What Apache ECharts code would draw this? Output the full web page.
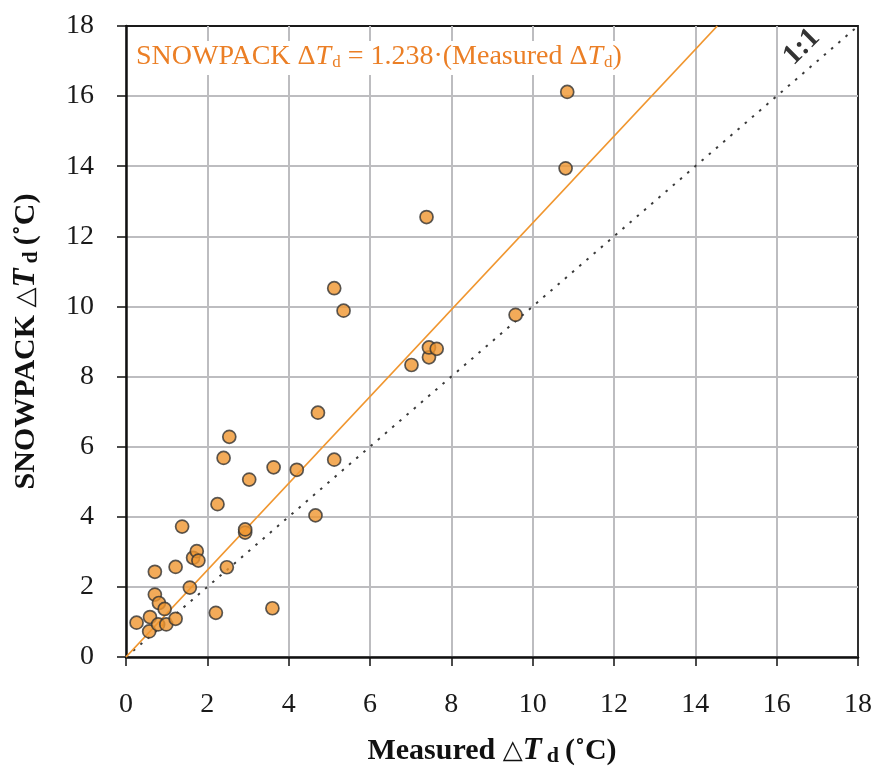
<!DOCTYPE html>
<html>
<head>
<meta charset="utf-8">
<script src="https://cdn.jsdelivr.net/npm/echarts@6/dist/echarts.min.js"></script>
<style>
  html, body { margin: 0; padding: 0; background: #fff; }
  #chart { width: 874px; height: 768px; }
</style>
</head>
<body>
<div id="chart"></div>
<script>
// measured vs simulated delta Td
const measured = [0.26, 0.57, 0.59, 0.71, 0.71, 0.81, 0.79, 0.95, 0.99, 1.22,
  1.22, 1.38, 1.57, 1.65, 1.74, 1.78, 2.21, 2.25, 2.40, 2.48,
  2.54, 2.93, 2.93, 3.03, 3.60, 3.63, 4.20, 4.66, 4.72, 5.12,
  5.12, 5.35, 7.02, 7.45, 7.45, 7.64, 7.39, 9.58, 10.81, 10.85];
const snowpack = [0.98, 0.73, 1.14, 1.78, 2.43, 1.54, 0.93, 1.37, 0.93, 1.09,
  2.57, 3.72, 1.98, 2.83, 3.02, 2.75, 1.26, 4.36, 5.68, 2.56,
  6.28, 3.55, 3.64, 5.06, 1.39, 5.41, 5.34, 4.04, 6.97, 5.63,
  10.52, 9.88, 8.33, 8.55, 8.83, 8.79, 12.55, 9.76, 13.94, 16.12];
const slope = 1.238;
const axisMax = 18;
const tickStep = 2;

const points = measured.map((v, i) => [v, snowpack[i]]);
const fitLine = [[0, 0], [axisMax / slope, axisMax]];
const oneToOne = [[0, 0], [axisMax, axisMax]];

const serif = "'Liberation Serif', 'DejaVu Serif', serif";

const titleRich = {
  tri: { fontFamily: "'DejaVu Sans'", fontSize: 26, color: "#111" },
  T: { fontFamily: serif, fontStyle: "italic", fontWeight: "bold", fontSize: 31, color: "#111" },
  sub: { fontFamily: serif, fontWeight: "bold", fontSize: 22, color: "#111", padding: [10, 6, 0, 5] }
};

var myChart = echarts.init(document.getElementById("chart"));
myChart.setOption({
  animation: false,
  grid: {
    left: 126, right: 16, top: 26, bottom: 111,
    outerBoundsMode: "none",
    containLabel: false,
    show: true, borderColor: "#1a1a1a", borderWidth: 1.8, backgroundColor: "transparent"
  },
  xAxis: {
    type: "value", min: 0, max: axisMax, interval: tickStep,
    axisLine: { lineStyle: { color: "#111", width: 2.5 } },
    axisTick: { show: true, length: 9, lineStyle: { color: "#111", width: 1.5 } },
    axisLabel: { color: "#1a1a1a", fontFamily: serif, fontSize: 28, margin: 34 },
    splitLine: { show: true, showMaxLine: false, lineStyle: { color: "#bdbdc0", width: 2 } },
    name: "Measured {tri|△}{T|T}{sub|d}(˚C)",
    nameLocation: "middle", nameGap: 78,
    nameTextStyle: {
      color: "#111", fontFamily: serif, fontWeight: "bold", fontSize: 30,
      rich: titleRich
    }
  },
  yAxis: {
    type: "value", min: 0, max: axisMax, interval: tickStep,
    axisLine: { show: true, lineStyle: { color: "#111", width: 2.5 } },
    axisTick: { show: true, length: 9, lineStyle: { color: "#111", width: 1.5 } },
    axisLabel: { color: "#1a1a1a", fontFamily: serif, fontSize: 28, margin: 32 },
    splitLine: { show: true, showMaxLine: false, lineStyle: { color: "#bdbdc0", width: 2 } },
    name: "SNOWPACK {tri|△}{T|T}{sub|d}(˚C)",
    nameLocation: "middle", nameGap: 84,
    nameTextStyle: {
      color: "#111", fontFamily: serif, fontWeight: "bold", fontSize: 30,
      rich: titleRich
    }
  },
  series: [
    {
      name: "1:1",
      type: "line",
      data: oneToOne,
      symbol: "none",
      lineStyle: { color: "#3a3a3a", width: 2, type: [2.5, 7] },
      markPoint: {
        symbol: "circle", symbolSize: 0,
        data: [{ coord: [16.62, 17.4] }],
        label: {
          show: true, formatter: "1:1", rotate: 45,
          fontFamily: serif, fontWeight: "bold", fontSize: 29, color: "#333"
        }
      },
      z: 2
    },
    {
      name: "fit",
      type: "line",
      data: fitLine,
      symbol: "none",
      lineStyle: { color: "#f0962f", width: 1.8 },
      z: 3
    },
    {
      name: "points",
      type: "scatter",
      data: points,
      symbolSize: 13,
      itemStyle: { color: "#f0962f", borderColor: "#333", borderWidth: 1.7 },
      z: 5
    }
  ],
  graphic: [
    {
      type: "text",
      left: 132, top: 41,
      z: 10,
      style: {
        text: "SNOWPACK Δ{T|T}{sub|d} = 1.238·(Measured Δ{T|T}{sub|d})",
        fill: "#eb7f26",
        font: "28px " + serif,
        backgroundColor: "#fff",
        padding: [2, 4, 4, 4],
        rich: {
          T: { fontFamily: serif, fontStyle: "italic", fontSize: 28, fill: "#eb7f26" },
          sub: { fontFamily: serif, fontSize: 17, fill: "#eb7f26", padding: [11, 0, 0, 1] }
        }
      }
    }
  ]
});
</script>
</body>
</html>
